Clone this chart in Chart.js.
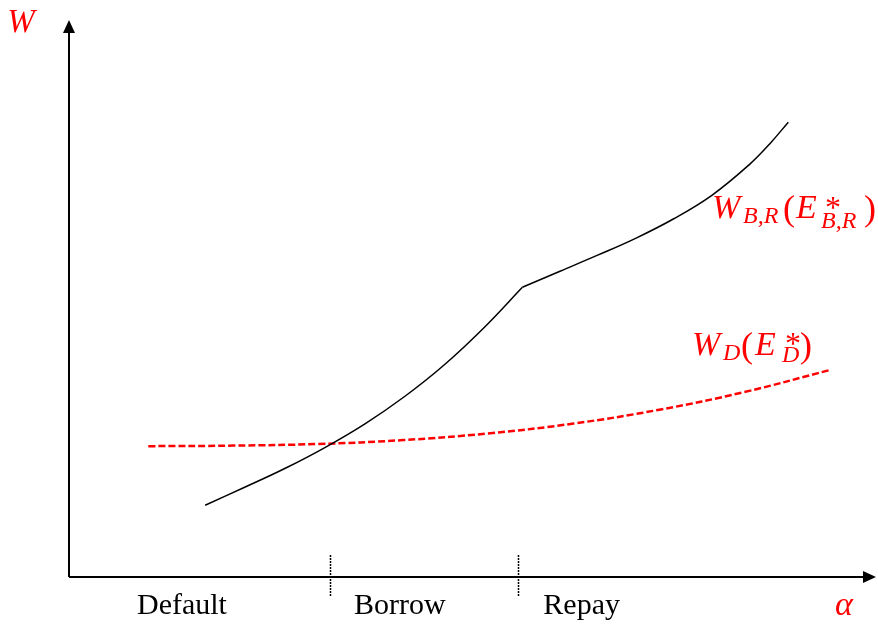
<!DOCTYPE html>
<html>
<head>
<meta charset="utf-8">
<script src="https://cdn.jsdelivr.net/npm/chart.js@4/dist/chart.umd.min.js"></script>
<style>
  html, body { margin: 0; padding: 0; background: #ffffff; }
  #wrap { width: 878px; height: 627px; }
</style>
</head>
<body>
<div id="wrap"><canvas id="c" width="878" height="627"></canvas></div>
<script>
// Welfare when borrowing (below the kink) and repaying (above it), as a function of alpha
const borrowAlpha = [1.70, 2.20, 2.70, 3.20, 3.70, 4.19, 4.69, 5.19, 5.66];
const borrowW     = [1.30, 1.63, 1.97, 2.35, 2.78, 3.27, 3.85, 4.53, 5.25];
const repayAlpha  = [5.66, 6.13, 6.60, 7.08, 7.55, 8.03, 8.50, 8.75, 8.98];
const repayW      = [5.25, 5.54, 5.83, 6.14, 6.49, 6.92, 7.48, 7.85, 8.24];

// Welfare under default
const defaultAlpha = [0.99, 2.05, 3.11, 4.17, 5.23, 6.30, 7.37, 8.43, 9.50];
const defaultW     = [2.37, 2.38, 2.41, 2.48, 2.60, 2.78, 3.03, 3.35, 3.75];

// Regime thresholds on the alpha axis and the regime names
const regimeBounds = [3.26, 5.61];
const regimeNames  = ['Default', 'Borrow', 'Repay'];
const regimeLabelAlpha = [1.41, 4.13, 6.40];

// Axis titles and curve labels (pieces: text, x offset, size, italic, vertical shift)
const yTitle = 'W';
const xTitle = 'α';
const labelBR = [
  { t: 'W',   dx: 0,   size: 34, it: true,  dy: 0 },
  { t: 'B,R', dx: 31,  size: 24, it: true,  dy: 5 },
  { t: '(',   dx: 71,  size: 36, it: false, dy: 2 },
  { t: 'E',   dx: 84,  size: 34, it: true,  dy: 0 },
  { t: '*',   dx: 113, size: 32, it: false, dy: 0 },
  { t: 'B,R', dx: 109, size: 24, it: true,  dy: 10 },
  { t: ')',   dx: 152, size: 36, it: false, dy: 2 }
];
const labelD = [
  { t: 'W', dx: 0,   size: 34, it: true,  dy: 0 },
  { t: 'D', dx: 31,  size: 24, it: true,  dy: 5 },
  { t: '(', dx: 49,  size: 36, it: false, dy: 2 },
  { t: 'E', dx: 63,  size: 34, it: true,  dy: 0 },
  { t: '*', dx: 93,  size: 32, it: false, dy: -1 },
  { t: 'D', dx: 90,  size: 24, it: true,  dy: 7 },
  { t: ')', dx: 108, size: 36, it: false, dy: 2 }
];

const toPoints = (xs, ys) => xs.map((x, i) => ({ x: x, y: ys[i] }));
const SERIF = '"Liberation Serif", "Times New Roman", serif';
const RED = '#ff0000';

function drawPieces(ctx, pieces, x, baseline) {
  for (const p of pieces) {
    ctx.font = (p.it ? 'italic ' : '') + p.size + 'px ' + SERIF;
    ctx.fillText(p.t, x + p.dx, baseline + p.dy);
  }
}

const diagramPlugin = {
  id: 'diagram',
  afterDraw(chart) {
    const ctx = chart.ctx;
    const xs = chart.scales.x, ys = chart.scales.y;
    const ox = xs.getPixelForValue(0), oy = ys.getPixelForValue(0);
    const xEnd = 876, yEnd = 20;
    ctx.save();

    // axes with arrow heads
    ctx.strokeStyle = '#000'; ctx.fillStyle = '#000'; ctx.lineWidth = 2;
    ctx.beginPath();
    ctx.moveTo(ox, oy); ctx.lineTo(ox, yEnd + 10);
    ctx.moveTo(ox, oy); ctx.lineTo(xEnd - 10, oy);
    ctx.stroke();
    ctx.beginPath();
    ctx.moveTo(ox, yEnd); ctx.lineTo(ox - 6, yEnd + 13); ctx.lineTo(ox + 6, yEnd + 13); ctx.closePath();
    ctx.fill();
    ctx.beginPath();
    ctx.moveTo(xEnd, oy); ctx.lineTo(xEnd - 13, oy - 6); ctx.lineTo(xEnd - 13, oy + 6); ctx.closePath();
    ctx.fill();

    // regime separators
    ctx.lineWidth = 1.5; ctx.setLineDash([2, 1]);
    for (const b of regimeBounds) {
      const px = Math.round(xs.getPixelForValue(b)) + 0.5;
      ctx.beginPath(); ctx.moveTo(px, oy - 22); ctx.lineTo(px, oy + 20); ctx.stroke();
    }
    ctx.setLineDash([]);

    // regime names
    ctx.fillStyle = '#000'; ctx.textAlign = 'center'; ctx.textBaseline = 'alphabetic';
    ctx.font = '30px ' + SERIF;
    regimeNames.forEach((n, i) => ctx.fillText(n, xs.getPixelForValue(regimeLabelAlpha[i]), oy + 37));

    // axis titles
    ctx.fillStyle = RED;
    ctx.font = 'italic 33px ' + SERIF;
    ctx.fillText(yTitle, 21, 32);
    ctx.font = 'italic 34px ' + SERIF;
    ctx.fillText(xTitle, 844, 615);

    // curve labels
    ctx.textAlign = 'left';
    drawPieces(ctx, labelBR, 712, 218);
    drawPieces(ctx, labelD, 692, 355);
    ctx.restore();
  }
};

const curve = {
  borderColor: '#000', borderWidth: 1.5, pointRadius: 0, tension: 0.4, fill: false
};

new Chart(document.getElementById('c'), {
  type: 'line',
  data: {
    datasets: [
      Object.assign({ label: 'Borrow', data: toPoints(borrowAlpha, borrowW) }, curve),
      Object.assign({ label: 'Repay', data: toPoints(repayAlpha, repayW) }, curve),
      {
        label: 'Default', data: toPoints(defaultAlpha, defaultW),
        borderColor: RED, borderWidth: 2.5, borderDash: [7, 3], pointRadius: 0,
        tension: 0.4, fill: false
      }
    ]
  },
  options: {
    responsive: false, animation: false, devicePixelRatio: 1,
    layout: { padding: { left: 69, right: 8, top: 25, bottom: 50 } },
    scales: {
      x: { type: 'linear', min: 0, max: 10, display: false },
      y: { type: 'linear', min: 0, max: 10, display: false }
    },
    plugins: { legend: { display: false }, tooltip: { enabled: false } }
  },
  plugins: [diagramPlugin]
});
</script>
</body>
</html>
